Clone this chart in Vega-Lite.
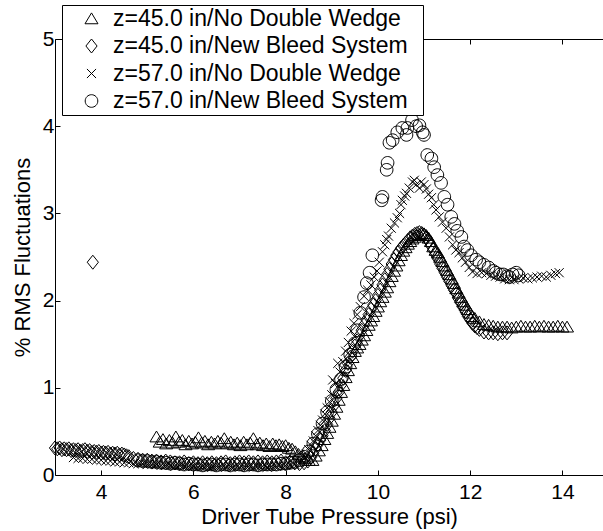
{
"$schema":"https://vega.github.io/schema/vega-lite/v6.json",
"width":548,"height":436,
"autosize":{"type":"none"},
"padding":{"left":55,"top":39,"right":0,"bottom":56},
"background":"white",
"config":{"view":{"stroke":null},"font":"Liberation Sans"},
"data":{"values":[
{"g":"A","p":5.20,"r":0.44},{"g":"A","p":5.27,"r":0.38},{"g":"A","p":5.34,"r":0.41},{"g":"A","p":5.41,"r":0.36},{"g":"A","p":5.48,"r":0.40},{"g":"A","p":5.55,"r":0.37},{"g":"A","p":5.62,"r":0.44},{"g":"A","p":5.69,"r":0.38},{"g":"A","p":5.76,"r":0.40},{"g":"A","p":5.83,"r":0.35},{"g":"A","p":5.90,"r":0.39},{"g":"A","p":5.97,"r":0.36},{"g":"A","p":6.04,"r":0.38},{"g":"A","p":6.11,"r":0.43},{"g":"A","p":6.18,"r":0.37},{"g":"A","p":6.25,"r":0.39},{"g":"A","p":6.32,"r":0.35},{"g":"A","p":6.39,"r":0.38},{"g":"A","p":6.46,"r":0.36},{"g":"A","p":6.53,"r":0.39},{"g":"A","p":6.60,"r":0.37},{"g":"A","p":6.67,"r":0.42},{"g":"A","p":6.74,"r":0.36},{"g":"A","p":6.81,"r":0.38},{"g":"A","p":6.88,"r":0.35},{"g":"A","p":6.95,"r":0.37},{"g":"A","p":7.02,"r":0.34},{"g":"A","p":7.09,"r":0.38},{"g":"A","p":7.16,"r":0.35},{"g":"A","p":7.23,"r":0.37},{"g":"A","p":7.30,"r":0.42},{"g":"A","p":7.37,"r":0.35},{"g":"A","p":7.44,"r":0.37},{"g":"A","p":7.51,"r":0.34},{"g":"A","p":7.58,"r":0.36},{"g":"A","p":7.65,"r":0.33},{"g":"A","p":7.72,"r":0.36},{"g":"A","p":7.79,"r":0.34},{"g":"A","p":7.86,"r":0.35},{"g":"A","p":7.93,"r":0.33},{"g":"A","p":8.00,"r":0.34},{"g":"A","p":8.07,"r":0.31},{"g":"A","p":8.14,"r":0.30},{"g":"A","p":8.21,"r":0.27},{"g":"A","p":8.28,"r":0.24},{"g":"A","p":8.35,"r":0.21},{"g":"A","p":8.42,"r":0.19},{"g":"A","p":8.50,"r":0.17},{"g":"A","p":8.58,"r":0.17},{"g":"A","p":8.65,"r":0.22},
{"g":"A","p":8.72,"r":0.28},{"g":"A","p":8.78,"r":0.34},{"g":"A","p":8.84,"r":0.41},{"g":"A","p":8.90,"r":0.48},{"g":"A","p":8.95,"r":0.55},{"g":"A","p":9.00,"r":0.62},{"g":"A","p":9.05,"r":0.70},{"g":"A","p":9.10,"r":0.78},{"g":"A","p":9.15,"r":0.86},{"g":"A","p":9.20,"r":0.95},{"g":"A","p":9.25,"r":1.03},{"g":"A","p":9.30,"r":1.12},{"g":"A","p":9.35,"r":1.20},{"g":"A","p":9.40,"r":1.28},{"g":"A","p":9.45,"r":1.35},{"g":"A","p":9.50,"r":1.42},{"g":"A","p":9.55,"r":1.46},{"g":"A","p":9.60,"r":1.50},{"g":"A","p":9.65,"r":1.55},{"g":"A","p":9.70,"r":1.60},{"g":"A","p":9.75,"r":1.66},{"g":"A","p":9.80,"r":1.72},{"g":"A","p":9.85,"r":1.77},{"g":"A","p":9.90,"r":1.82},{"g":"A","p":9.95,"r":1.88},{"g":"A","p":10.00,"r":1.93},{"g":"A","p":10.05,"r":1.99},{"g":"A","p":10.10,"r":2.04},{"g":"A","p":10.15,"r":2.10},{"g":"A","p":10.20,"r":2.15},{"g":"A","p":10.25,"r":2.22},{"g":"A","p":10.30,"r":2.28},{"g":"A","p":10.35,"r":2.34},{"g":"A","p":10.40,"r":2.40},{"g":"A","p":10.45,"r":2.46},{"g":"A","p":10.50,"r":2.52},{"g":"A","p":10.55,"r":2.57},{"g":"A","p":10.60,"r":2.61},{"g":"A","p":10.65,"r":2.65},{"g":"A","p":10.70,"r":2.68},{"g":"A","p":10.75,"r":2.71},{"g":"A","p":10.80,"r":2.73},{"g":"A","p":10.85,"r":2.75},{"g":"A","p":10.90,"r":2.76},{"g":"A","p":10.95,"r":2.77},{"g":"A","p":11.00,"r":2.77},{"g":"A","p":11.05,"r":2.75},{"g":"A","p":11.10,"r":2.72},{"g":"A","p":11.15,"r":2.68},{"g":"A","p":11.20,"r":2.62},{"g":"A","p":11.25,"r":2.58},{"g":"A","p":11.30,"r":2.55},{"g":"A","p":11.35,"r":2.50},{"g":"A","p":11.40,"r":2.45},{"g":"A","p":11.45,"r":2.40},{"g":"A","p":11.50,"r":2.35},{"g":"A","p":11.55,"r":2.30},{"g":"A","p":11.60,"r":2.25},{"g":"A","p":11.65,"r":2.20},{"g":"A","p":11.70,"r":2.14},{"g":"A","p":11.75,"r":2.09},{"g":"A","p":11.80,"r":2.04},{"g":"A","p":11.85,"r":1.99},{"g":"A","p":11.90,"r":1.95},{"g":"A","p":11.95,"r":1.90},{"g":"A","p":12.00,"r":1.86},{"g":"A","p":12.05,"r":1.82},{"g":"A","p":12.10,"r":1.80},{"g":"A","p":12.20,"r":1.76},{"g":"A","p":12.30,"r":1.73},{"g":"A","p":12.40,"r":1.72},{"g":"A","p":12.50,"r":1.71},{"g":"A","p":12.60,"r":1.70},{"g":"A","p":12.70,"r":1.70},{"g":"A","p":12.80,"r":1.70},{"g":"A","p":12.90,"r":1.69},{"g":"A","p":13.00,"r":1.70},{"g":"A","p":13.10,"r":1.71},{"g":"A","p":13.20,"r":1.70},{"g":"A","p":13.30,"r":1.70},{"g":"A","p":13.40,"r":1.71},{"g":"A","p":13.50,"r":1.70},{"g":"A","p":13.60,"r":1.71},{"g":"A","p":13.70,"r":1.70},{"g":"A","p":13.80,"r":1.70},{"g":"A","p":13.90,"r":1.71},{"g":"A","p":14.00,"r":1.70},{"g":"A","p":14.10,"r":1.70},
{"g":"B","p":3.82,"r":2.44},
{"g":"B","p":3.00,"r":0.31},{"g":"B","p":3.05,"r":0.30},{"g":"B","p":3.10,"r":0.31},{"g":"B","p":3.15,"r":0.29},{"g":"B","p":3.20,"r":0.30},{"g":"B","p":3.25,"r":0.29},{"g":"B","p":3.30,"r":0.30},{"g":"B","p":3.35,"r":0.28},{"g":"B","p":3.40,"r":0.29},{"g":"B","p":3.45,"r":0.28},{"g":"B","p":3.50,"r":0.29},{"g":"B","p":3.55,"r":0.27},{"g":"B","p":3.60,"r":0.28},{"g":"B","p":3.65,"r":0.29},{"g":"B","p":3.70,"r":0.27},{"g":"B","p":3.75,"r":0.28},{"g":"B","p":3.80,"r":0.26},{"g":"B","p":3.85,"r":0.27},{"g":"B","p":3.90,"r":0.26},{"g":"B","p":3.95,"r":0.27},{"g":"B","p":4.00,"r":0.25},{"g":"B","p":4.05,"r":0.26},{"g":"B","p":4.10,"r":0.25},{"g":"B","p":4.15,"r":0.26},{"g":"B","p":4.20,"r":0.24},{"g":"B","p":4.25,"r":0.25},{"g":"B","p":4.30,"r":0.24},{"g":"B","p":4.35,"r":0.25},{"g":"B","p":4.40,"r":0.23},{"g":"B","p":4.45,"r":0.24},{"g":"B","p":4.50,"r":0.23},{"g":"B","p":4.55,"r":0.22},{"g":"B","p":4.60,"r":0.21},{"g":"B","p":4.70,"r":0.19},{"g":"B","p":4.80,"r":0.18},{"g":"B","p":4.90,"r":0.17},{"g":"B","p":5.00,"r":0.17},{"g":"B","p":5.10,"r":0.16},{"g":"B","p":5.20,"r":0.16},{"g":"B","p":5.30,"r":0.15},{"g":"B","p":5.40,"r":0.16},{"g":"B","p":5.50,"r":0.15},{"g":"B","p":5.60,"r":0.14},{"g":"B","p":5.70,"r":0.14},{"g":"B","p":5.80,"r":0.15},{"g":"B","p":5.90,"r":0.13},{"g":"B","p":6.00,"r":0.14},{"g":"B","p":6.10,"r":0.13},{"g":"B","p":6.20,"r":0.14},{"g":"B","p":6.30,"r":0.13},{"g":"B","p":6.40,"r":0.14},{"g":"B","p":6.50,"r":0.13},{"g":"B","p":6.60,"r":0.14},{"g":"B","p":6.70,"r":0.15},{"g":"B","p":6.80,"r":0.13},{"g":"B","p":6.90,"r":0.14},{"g":"B","p":7.00,"r":0.15},{"g":"B","p":7.10,"r":0.14},{"g":"B","p":7.20,"r":0.15},{"g":"B","p":7.30,"r":0.14},{"g":"B","p":7.40,"r":0.15},{"g":"B","p":7.50,"r":0.14},{"g":"B","p":7.60,"r":0.15},{"g":"B","p":7.70,"r":0.14},{"g":"B","p":7.80,"r":0.15},{"g":"B","p":7.90,"r":0.16},{"g":"B","p":8.00,"r":0.14},{"g":"B","p":8.10,"r":0.15},{"g":"B","p":8.20,"r":0.14},{"g":"B","p":8.30,"r":0.13},{"g":"B","p":8.40,"r":0.14},{"g":"B","p":8.48,"r":0.16},
{"g":"B","p":8.55,"r":0.20},{"g":"B","p":8.60,"r":0.25},{"g":"B","p":8.65,"r":0.30},{"g":"B","p":8.70,"r":0.35},{"g":"B","p":8.75,"r":0.40},{"g":"B","p":8.80,"r":0.45},{"g":"B","p":8.85,"r":0.51},{"g":"B","p":8.90,"r":0.58},{"g":"B","p":8.95,"r":0.65},{"g":"B","p":9.00,"r":0.72},{"g":"B","p":9.05,"r":0.80},{"g":"B","p":9.10,"r":0.88},{"g":"B","p":9.15,"r":0.95},{"g":"B","p":9.20,"r":1.03},{"g":"B","p":9.25,"r":1.11},{"g":"B","p":9.30,"r":1.20},{"g":"B","p":9.35,"r":1.28},{"g":"B","p":9.40,"r":1.35},{"g":"B","p":9.45,"r":1.42},{"g":"B","p":9.50,"r":1.48},{"g":"B","p":9.55,"r":1.54},{"g":"B","p":9.60,"r":1.60},{"g":"B","p":9.65,"r":1.66},{"g":"B","p":9.70,"r":1.72},{"g":"B","p":9.75,"r":1.78},{"g":"B","p":9.80,"r":1.84},{"g":"B","p":9.85,"r":1.90},{"g":"B","p":9.90,"r":1.95},{"g":"B","p":9.95,"r":2.00},{"g":"B","p":10.00,"r":2.06},{"g":"B","p":10.05,"r":2.12},{"g":"B","p":10.10,"r":2.18},{"g":"B","p":10.15,"r":2.24},{"g":"B","p":10.20,"r":2.30},{"g":"B","p":10.25,"r":2.36},{"g":"B","p":10.30,"r":2.42},{"g":"B","p":10.35,"r":2.47},{"g":"B","p":10.40,"r":2.52},{"g":"B","p":10.45,"r":2.56},{"g":"B","p":10.50,"r":2.60},{"g":"B","p":10.55,"r":2.63},{"g":"B","p":10.60,"r":2.66},{"g":"B","p":10.65,"r":2.69},{"g":"B","p":10.70,"r":2.72},{"g":"B","p":10.75,"r":2.74},{"g":"B","p":10.80,"r":2.76},{"g":"B","p":10.85,"r":2.77},{"g":"B","p":10.90,"r":2.78},{"g":"B","p":10.95,"r":2.77},{"g":"B","p":11.00,"r":2.75},{"g":"B","p":11.05,"r":2.72},{"g":"B","p":11.10,"r":2.68},{"g":"B","p":11.15,"r":2.63},{"g":"B","p":11.20,"r":2.58},{"g":"B","p":11.25,"r":2.53},{"g":"B","p":11.30,"r":2.48},{"g":"B","p":11.35,"r":2.42},{"g":"B","p":11.40,"r":2.37},{"g":"B","p":11.45,"r":2.32},{"g":"B","p":11.50,"r":2.27},{"g":"B","p":11.55,"r":2.22},{"g":"B","p":11.60,"r":2.17},{"g":"B","p":11.65,"r":2.12},{"g":"B","p":11.70,"r":2.08},{"g":"B","p":11.75,"r":2.02},{"g":"B","p":11.80,"r":1.97},{"g":"B","p":11.85,"r":1.92},{"g":"B","p":11.90,"r":1.87},{"g":"B","p":11.95,"r":1.82},{"g":"B","p":12.00,"r":1.78},{"g":"B","p":12.05,"r":1.74},{"g":"B","p":12.10,"r":1.71},{"g":"B","p":12.15,"r":1.69},{"g":"B","p":12.20,"r":1.67},{"g":"B","p":12.30,"r":1.64},{"g":"B","p":12.40,"r":1.63},{"g":"B","p":12.50,"r":1.63},{"g":"B","p":12.60,"r":1.62},{"g":"B","p":12.70,"r":1.63},{"g":"B","p":12.80,"r":1.63},
{"g":"C","p":3.40,"r":0.20},{"g":"C","p":3.50,"r":0.19},{"g":"C","p":3.60,"r":0.19},{"g":"C","p":3.70,"r":0.18},{"g":"C","p":3.80,"r":0.18},{"g":"C","p":3.90,"r":0.17},{"g":"C","p":4.00,"r":0.17},{"g":"C","p":4.10,"r":0.16},{"g":"C","p":4.20,"r":0.16},{"g":"C","p":4.30,"r":0.15},{"g":"C","p":4.40,"r":0.15},{"g":"C","p":4.50,"r":0.14},{"g":"C","p":4.60,"r":0.14},{"g":"C","p":4.70,"r":0.13},{"g":"C","p":4.80,"r":0.13},{"g":"C","p":4.90,"r":0.13},{"g":"C","p":5.00,"r":0.12},{"g":"C","p":5.10,"r":0.12},{"g":"C","p":5.20,"r":0.12},{"g":"C","p":5.30,"r":0.11},{"g":"C","p":5.40,"r":0.11},{"g":"C","p":5.50,"r":0.11},{"g":"C","p":5.60,"r":0.10},{"g":"C","p":5.70,"r":0.11},{"g":"C","p":5.80,"r":0.10},{"g":"C","p":5.90,"r":0.10},{"g":"C","p":6.00,"r":0.10},{"g":"C","p":6.10,"r":0.09},{"g":"C","p":6.20,"r":0.10},{"g":"C","p":6.30,"r":0.10},{"g":"C","p":6.40,"r":0.09},{"g":"C","p":6.50,"r":0.10},{"g":"C","p":6.60,"r":0.10},{"g":"C","p":6.70,"r":0.09},{"g":"C","p":6.80,"r":0.10},{"g":"C","p":6.90,"r":0.10},{"g":"C","p":7.00,"r":0.09},{"g":"C","p":7.10,"r":0.10},{"g":"C","p":7.20,"r":0.10},{"g":"C","p":7.30,"r":0.09},{"g":"C","p":7.40,"r":0.10},{"g":"C","p":7.50,"r":0.10},{"g":"C","p":7.60,"r":0.09},{"g":"C","p":7.70,"r":0.10},{"g":"C","p":7.80,"r":0.10},{"g":"C","p":7.90,"r":0.10},{"g":"C","p":8.00,"r":0.11},{"g":"C","p":8.10,"r":0.11},{"g":"C","p":8.20,"r":0.12},{"g":"C","p":8.30,"r":0.14},
{"g":"C","p":8.40,"r":0.19},{"g":"C","p":8.45,"r":0.24},{"g":"C","p":8.50,"r":0.29},{"g":"C","p":8.55,"r":0.34},{"g":"C","p":8.60,"r":0.39},{"g":"C","p":8.65,"r":0.45},{"g":"C","p":8.70,"r":0.51},{"g":"C","p":8.75,"r":0.57},{"g":"C","p":8.80,"r":0.63},{"g":"C","p":8.85,"r":0.70},{"g":"C","p":8.90,"r":0.77},{"g":"C","p":8.95,"r":0.84},{"g":"C","p":9.00,"r":0.92},{"g":"C","p":9.02,"r":1.09},{"g":"C","p":9.08,"r":1.05},{"g":"C","p":9.13,"r":1.28},{"g":"C","p":9.18,"r":1.18},{"g":"C","p":9.24,"r":1.30},{"g":"C","p":9.30,"r":1.42},{"g":"C","p":9.36,"r":1.52},{"g":"C","p":9.42,"r":1.65},{"g":"C","p":9.48,"r":1.74},{"g":"C","p":9.55,"r":1.84},{"g":"C","p":9.62,"r":1.93},{"g":"C","p":9.70,"r":2.05},{"g":"C","p":9.78,"r":2.12},{"g":"C","p":9.85,"r":2.18},{"g":"C","p":9.92,"r":2.27},{"g":"C","p":9.98,"r":2.34},{"g":"C","p":10.03,"r":2.44},{"g":"C","p":10.10,"r":2.56},{"g":"C","p":10.15,"r":2.64},{"g":"C","p":10.19,"r":2.70},{"g":"C","p":10.23,"r":2.74},{"g":"C","p":10.29,"r":2.83},{"g":"C","p":10.36,"r":2.89},{"g":"C","p":10.42,"r":2.95},{"g":"C","p":10.47,"r":3.00},{"g":"C","p":10.50,"r":3.10},{"g":"C","p":10.53,"r":3.15},{"g":"C","p":10.58,"r":3.20},{"g":"C","p":10.62,"r":3.23},{"g":"C","p":10.68,"r":3.29},{"g":"C","p":10.75,"r":3.36},{"g":"C","p":10.79,"r":3.38},{"g":"C","p":10.83,"r":3.33},{"g":"C","p":10.90,"r":3.29},{"g":"C","p":10.94,"r":3.36},{"g":"C","p":11.00,"r":3.33},{"g":"C","p":11.05,"r":3.28},{"g":"C","p":11.10,"r":3.22},{"g":"C","p":11.16,"r":3.18},{"g":"C","p":11.21,"r":3.10},{"g":"C","p":11.26,"r":3.04},{"g":"C","p":11.33,"r":2.96},{"g":"C","p":11.40,"r":2.90},{"g":"C","p":11.48,"r":2.83},{"g":"C","p":11.55,"r":2.73},{"g":"C","p":11.62,"r":2.64},{"g":"C","p":11.69,"r":2.58},{"g":"C","p":11.76,"r":2.55},{"g":"C","p":11.83,"r":2.49},{"g":"C","p":11.90,"r":2.44},{"g":"C","p":11.98,"r":2.38},{"g":"C","p":12.05,"r":2.33},{"g":"C","p":12.15,"r":2.31},{"g":"C","p":12.25,"r":2.32},{"g":"C","p":12.35,"r":2.31},{"g":"C","p":12.45,"r":2.29},{"g":"C","p":12.55,"r":2.28},{"g":"C","p":12.65,"r":2.27},{"g":"C","p":12.75,"r":2.25},{"g":"C","p":12.85,"r":2.24},{"g":"C","p":12.95,"r":2.24},{"g":"C","p":13.05,"r":2.25},{"g":"C","p":13.15,"r":2.26},{"g":"C","p":13.25,"r":2.25},{"g":"C","p":13.35,"r":2.26},{"g":"C","p":13.45,"r":2.27},{"g":"C","p":13.55,"r":2.28},{"g":"C","p":13.65,"r":2.27},{"g":"C","p":13.75,"r":2.29},{"g":"C","p":13.85,"r":2.31},{"g":"C","p":13.93,"r":2.32},
{"g":"D","p":4.80,"r":0.17},{"g":"D","p":4.90,"r":0.16},{"g":"D","p":5.00,"r":0.16},{"g":"D","p":5.10,"r":0.15},{"g":"D","p":5.20,"r":0.15},{"g":"D","p":5.30,"r":0.14},{"g":"D","p":5.40,"r":0.14},{"g":"D","p":5.50,"r":0.13},{"g":"D","p":5.60,"r":0.14},{"g":"D","p":5.70,"r":0.13},{"g":"D","p":5.80,"r":0.12},{"g":"D","p":5.90,"r":0.13},{"g":"D","p":6.00,"r":0.12},{"g":"D","p":6.10,"r":0.12},{"g":"D","p":6.20,"r":0.11},{"g":"D","p":6.30,"r":0.12},{"g":"D","p":6.40,"r":0.12},{"g":"D","p":6.50,"r":0.11},{"g":"D","p":6.60,"r":0.12},{"g":"D","p":6.70,"r":0.12},{"g":"D","p":6.80,"r":0.11},{"g":"D","p":6.90,"r":0.12},{"g":"D","p":7.00,"r":0.12},{"g":"D","p":7.10,"r":0.11},{"g":"D","p":7.20,"r":0.12},{"g":"D","p":7.30,"r":0.12},{"g":"D","p":7.40,"r":0.11},{"g":"D","p":7.50,"r":0.12},{"g":"D","p":7.60,"r":0.12},{"g":"D","p":7.70,"r":0.12},{"g":"D","p":7.80,"r":0.12},{"g":"D","p":7.90,"r":0.13},{"g":"D","p":8.00,"r":0.13},{"g":"D","p":8.10,"r":0.14},{"g":"D","p":8.20,"r":0.15},
{"g":"D","p":8.30,"r":0.17},{"g":"D","p":8.40,"r":0.21},{"g":"D","p":8.50,"r":0.27},{"g":"D","p":8.60,"r":0.36},{"g":"D","p":8.70,"r":0.47},{"g":"D","p":8.80,"r":0.59},{"g":"D","p":8.90,"r":0.72},{"g":"D","p":9.00,"r":0.85},{"g":"D","p":9.10,"r":0.98},{"g":"D","p":9.20,"r":1.10},{"g":"D","p":9.30,"r":1.24},{"g":"D","p":9.40,"r":1.38},{"g":"D","p":9.50,"r":1.51},{"g":"D","p":9.55,"r":1.66},{"g":"D","p":9.62,"r":1.86},{"g":"D","p":9.70,"r":2.04},{"g":"D","p":9.76,"r":2.20},{"g":"D","p":9.82,"r":2.32},{"g":"D","p":9.88,"r":2.52},{"g":"D","p":10.08,"r":3.15},{"g":"D","p":10.10,"r":3.19},{"g":"D","p":10.19,"r":3.50},{"g":"D","p":10.21,"r":3.58},{"g":"D","p":10.25,"r":3.81},{"g":"D","p":10.32,"r":3.84},{"g":"D","p":10.42,"r":3.93},{"g":"D","p":10.53,"r":3.98},{"g":"D","p":10.62,"r":3.90},{"g":"D","p":10.64,"r":3.98},{"g":"D","p":10.74,"r":4.07},{"g":"D","p":10.83,"r":4.00},{"g":"D","p":10.90,"r":4.01},{"g":"D","p":10.97,"r":3.93},{"g":"D","p":11.00,"r":3.90},{"g":"D","p":11.07,"r":3.67},{"g":"D","p":11.16,"r":3.63},{"g":"D","p":11.22,"r":3.53},{"g":"D","p":11.29,"r":3.44},{"g":"D","p":11.37,"r":3.35},{"g":"D","p":11.44,"r":3.19},{"g":"D","p":11.51,"r":3.10},{"g":"D","p":11.59,"r":2.96},{"g":"D","p":11.66,"r":2.88},{"g":"D","p":11.72,"r":2.80},{"g":"D","p":11.81,"r":2.73},{"g":"D","p":11.87,"r":2.62},{"g":"D","p":11.94,"r":2.58},{"g":"D","p":12.02,"r":2.52},{"g":"D","p":12.13,"r":2.47},{"g":"D","p":12.20,"r":2.44},{"g":"D","p":12.30,"r":2.41},{"g":"D","p":12.40,"r":2.38},{"g":"D","p":12.50,"r":2.34},{"g":"D","p":12.56,"r":2.32},{"g":"D","p":12.65,"r":2.30},{"g":"D","p":12.72,"r":2.30},{"g":"D","p":12.80,"r":2.28},{"g":"D","p":12.85,"r":2.27},{"g":"D","p":12.92,"r":2.30},{"g":"D","p":13.00,"r":2.32},{"g":"D","p":13.05,"r":2.29}
]},
"resolve":{"axis":{"x":"independent"}},
"layer":[
{"transform":[{"filter":{"field":"g","oneOf":["A","B"]}}],
 "mark":{"type":"point","filled":false,"stroke":"black","strokeWidth":1,"size":196,"opacity":1},
 "encoding":{
  "x":{"field":"p","type":"quantitative","scale":{"domain":[3,14.88],"nice":false,"zero":false},
   "axis":{"orient":"bottom","values":[4,6,8,10,12,14],"format":"d","grid":false,"tickSize":-5,"tickColor":"black","tickWidth":1,"domainColor":"black","domainWidth":1,"labelFont":"Liberation Sans","labelFontSize":21,"labelColor":"black","labelPadding":11,"labelFlush":false,"title":"Driver Tube Pressure (psi)","titleFont":"Liberation Sans","titleFontSize":22,"titleFontWeight":"normal","titleColor":"black","titleY":48,"titleBaseline":"alphabetic"}},
  "y":{"field":"r","type":"quantitative","scale":{"domain":[0,5],"nice":false,"zero":true},
   "axis":{"values":[0,1,2,3,4,5],"format":"d","grid":false,"tickSize":-5,"tickColor":"black","tickWidth":1,"domainColor":"black","domainWidth":1,"labelFont":"Liberation Sans","labelFontSize":21,"labelColor":"black","labelPadding":6,"labelFlush":false,"title":"% RMS Fluctuations","titleFont":"Liberation Sans","titleFontSize":22,"titleFontWeight":"normal","titleColor":"black","titleX":-26,"titleBaseline":"alphabetic"}},
  "shape":{"field":"g","type":"nominal",
   "scale":{"domain":["A","B","C","D"],"range":["M0,-0.8L0.93,0.75L-0.93,0.75Z","M0,-1L0.8,0L0,1L-0.8,0Z","M-0.65,-0.65L0.65,0.65M-0.65,0.65L0.65,-0.65","M0.9,0A0.9,0.9,0,1,1,-0.9,0A0.9,0.9,0,1,1,0.9,0Z"]},
   "legend":{"orient":"none","legendX":7,"legendY":-34,"title":null,"strokeColor":"black","fillColor":"white","padding":2,"labelFont":"Liberation Sans","labelFontSize":23,"labelColor":"black","labelLimit":0,"symbolSize":196,"symbolStrokeColor":"black","symbolStrokeWidth":1,"symbolOffset":16,"labelOffset":10,"rowPadding":3.5,
    "labelExpr":"datum.label == 'A' ? 'z=45.0 in/No Double Wedge' : datum.label == 'B' ? 'z=45.0 in/New Bleed System\u00a0\u00a0\u200b' : datum.label == 'C' ? 'z=57.0 in/No Double Wedge' : 'z=57.0 in/New Bleed System\u00a0\u00a0\u200b'"}}
 }},
{"transform":[{"filter":{"field":"g","oneOf":["C","D"]}}],
 "mark":{"type":"point","filled":false,"stroke":"black","strokeWidth":1,"size":196,"opacity":1},
 "encoding":{
  "x":{"field":"p","type":"quantitative","scale":{"domain":[3,14.88],"nice":false,"zero":false},
   "axis":{"orient":"top","values":[4,6,8,10,12,14],"grid":false,"labels":false,"title":null,"tickSize":-5,"tickColor":"black","tickWidth":1,"domainColor":"black","domainWidth":1}},
  "y":{"field":"r","type":"quantitative"},
  "shape":{"field":"g","type":"nominal"}
 }}
]
}
